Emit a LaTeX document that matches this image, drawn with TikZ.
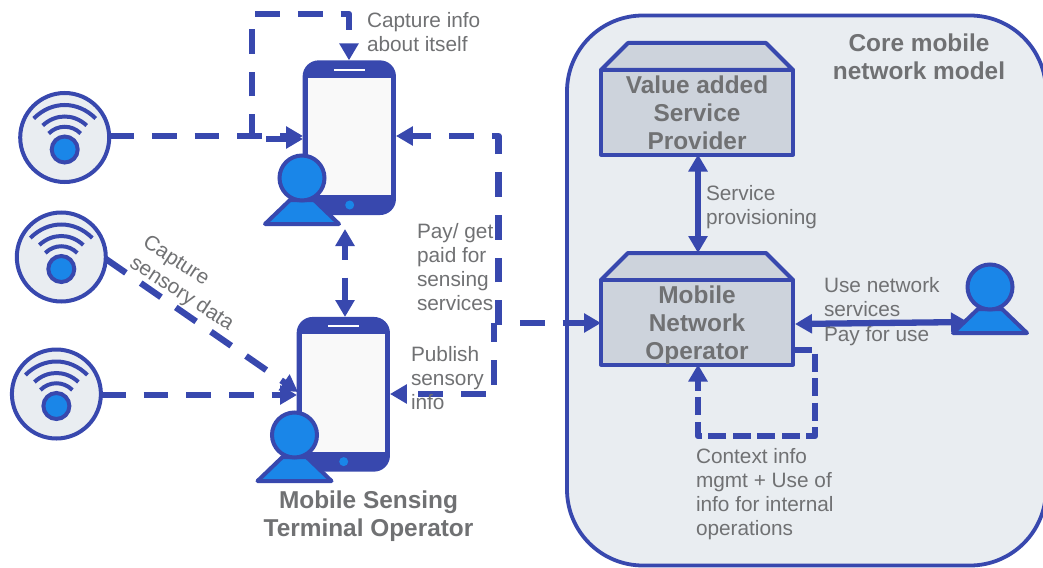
\documentclass[tikz,border=0pt]{standalone}
\usepackage{fontspec}
\setmainfont{Liberation Sans}
\usetikzlibrary{arrows.meta}
\definecolor{lineblue}{HTML}{3848AE}
\definecolor{fillblue}{HTML}{1A86E8}
\definecolor{coregray}{HTML}{E9EDF1}
\definecolor{boxgray}{HTML}{CDD3DC}
\definecolor{txtgray}{HTML}{707173}
\definecolor{screengray}{HTML}{F9F9F9}
\tikzset{
  x=1pt,y=-1pt,
  tip/.style={-{Triangle[length=17pt,width=18.5pt]}},
  biptip/.style={{Triangle[length=17pt,width=18.5pt]}-{Triangle[length=17pt,width=18.5pt]}},
  flow/.style={draw=lineblue,line width=6.3pt,line join=round,dash pattern=on 24.7pt off 18pt},
  flowshort/.style={draw=lineblue,line width=6.3pt,line join=round,dash pattern=on 18pt off 6.5pt},
  solidflow/.style={draw=lineblue,line width=6.3pt,line join=round},
  sensorbody/.style={circle,draw=lineblue,fill=coregray,line width=4pt,minimum size=89pt,inner sep=0pt,outer sep=0pt},
  sensordot/.style={circle,draw=lineblue,fill=fillblue,line width=4pt,minimum size=26pt,inner sep=0pt,outer sep=0pt},
  wave/.style={draw=lineblue,line width=4pt},
  phonebody/.style={rectangle,fill=lineblue,rounded corners=16pt,minimum width=93.3pt,minimum height=154.7pt,inner sep=0pt,outer sep=0pt},
  head/.style={circle,draw=lineblue,fill=fillblue,line width=4pt,minimum size=45pt,inner sep=0pt,outer sep=0pt},
  bodyshape/.style={draw=lineblue,fill=fillblue,line width=4pt,line join=round},
  stack/.style={draw=lineblue,fill=boxgray,line width=4pt,line join=round},
  label/.style={text=txtgray,align=left,anchor=north west,inner sep=0pt,outer sep=0pt,font=\fontsize{20.8}{24.3}\selectfont},
  title/.style={text=txtgray,align=center,inner sep=0pt,outer sep=0pt,font=\fontsize{24.4}{28.2}\selectfont\bfseries},
}
\newcommand{\sensoricon}[3]{%
  \node[sensorbody] (#1) at (#2,#3) {};
  \begin{scope}[shift={(#2,#3)}]
    \draw[wave] (-31,-19) .. controls (-13,-37) and (13,-37) .. (31,-19);
    \draw[wave] (-22,-12) .. controls (-9,-24) and (9,-24) .. (22,-12);
    \draw[wave] (-16,-4) .. controls (-7,-13) and (7,-13) .. (16,-4);
    \node[sensordot] (#1dot) at (0,12) {};
  \end{scope}}
\newcommand{\phoneicon}[3]{%
  \node[phonebody] (#1) at (#2,#3) {};
  \begin{scope}[shift={(#2,#3)}]
    \fill[screengray] (-41,-60) rectangle (42,57.4);
    \fill[white] (-15,-69) rectangle (16,-67);
    \fill[fillblue] (0.4,67.3) circle (4.5);
  \end{scope}}
\newcommand{\personicon}[3]{%
  \begin{scope}[shift={(#2,#3)}]
    \draw[bodyshape] (-37,46) -- (37,46) -- (12,22) -- (-12,22) -- cycle;
  \end{scope}
  \node[head] (#1) at (#2,#3) {};}
\newcommand{\stackbox}[2]{%
  \begin{scope}[shift={(601,#2)}]
    \draw[stack] (0,0) -- (27,-27) -- (165,-27) -- (192,0) -- cycle;
    \draw[stack] (0,0) rectangle (192,84.5);
    \coordinate (#1n) at (97,-27);
    \coordinate (#1s) at (97,84.5);
    \coordinate (#1w) at (0,43);
    \coordinate (#1e) at (194,44);
    \coordinate (#1r) at (193,70);
  \end{scope}}
\begin{document}
\begin{tikzpicture}
\useasboundingbox (0,0) rectangle (1043,567);
\clip (0,0) rectangle (1043,567);
\draw[draw=lineblue,fill=coregray,line width=3.8pt,rounded corners=76pt] (567,15.5) rectangle (1046,565.5);

% coordinates for free ends and junctions
\coordinate (loopa) at (252,14);
\coordinate (loopb) at (349,14);
\coordinate (loopstart) at (252,139);
\coordinate (extra) at (266,139);
\coordinate (extraend) at (303,139);
\coordinate (p1in) at (303,136);
\coordinate (trunkup) at (498.5,325);
\coordinate (trunkupc) at (498.5,136);
\coordinate (trunkdown) at (494.3,323);
\coordinate (trunkdownc) at (494.3,394);
\coordinate (branch) at (520,323);
\coordinate (p2a) at (345,229);
\coordinate (p2b) at (345,317);
\coordinate (s2start) at (105.6,258.8);
\coordinate (s2end) at (298,392);
\coordinate (s3in) at (297,395);
\coordinate (ownc) at (815,350);
\coordinate (ownd) at (815,436);
\coordinate (owne) at (698,436);
\coordinate (uin) at (968,322);

\stackbox{vas}{70}
\stackbox{mno}{280}

\sensoricon{sa}{64.7}{137.5}
\sensoricon{sb}{61.3}{257}
\sensoricon{sc}{56.4}{394}
\phoneicon{pa}{349.3}{137.7}
\phoneicon{pb}{343.3}{394.3}

% connectors
\draw[flow,tip] (sa.east |- p1in) -- (p1in);
\draw[flow,tip] (extra) -- (extraend);
\draw[flow,tip] (loopstart) -- (loopa) -- (loopb) -- (loopb |- pa.north);
\draw[flow,tip,dash phase=0pt] (trunkup) -- (trunkupc) -- (pa.east |- trunkupc);
\draw[flow,tip,dash phase=5.7pt] (trunkdown) -- (trunkdownc) -- (pb.east |- trunkdownc);
\draw[flow,tip] (branch) -- (mnow |- branch);
\draw[flow,biptip,dash phase=10pt] (p2a) -- (p2b);
\draw[flow,tip] (s2start) -- (s2end);
\draw[flow,tip] (sc.east |- s3in) -- (s3in);
\draw[solidflow,biptip] (vass) -- (mnon);
\draw[solidflow,biptip] (mnoe) -- (uin);
\draw[flowshort,tip] (mnor) -- (ownc) -- (ownd) -- (owne) -- (mnos);

\personicon{ua}{302}{178}
\personicon{ub}{294.5}{435}
\personicon{uc}{990}{287}

% labels
\node[label] (l1) at (367,12) {Capture info\\about itself};
\node[label] (l2) at (417,223) {Pay/ get\\paid for\\sensing\\services};
\node[label] (l3) at (411,346) {Publish\\sensory\\info};
\node[label] (l4) at (706,185) {Service\\provisioning};
\node[label] (l5) at (824,277) {Use network\\services};
\node[label] (l6) at (824,326) {Pay for use};
\node[label] (l7) at (696,448) {Context info\\mgmt + Use of\\info for internal\\operations};
\node[label,anchor=center,align=left,rotate=-33] (l8) at (188,284) {Capture\\sensory data};
\node[title] (t1) at (368.5,516.5) {Mobile Sensing\\Terminal Operator};
\node[title] (t2) at (919,56.5) {Core mobile\\network model};
\node[title] (t3) at (697,113) {Value added\\Service\\Provider};
\node[title] (t4) at (697,325) {Mobile\\Network\\Operator};
\end{tikzpicture}
\end{document}
